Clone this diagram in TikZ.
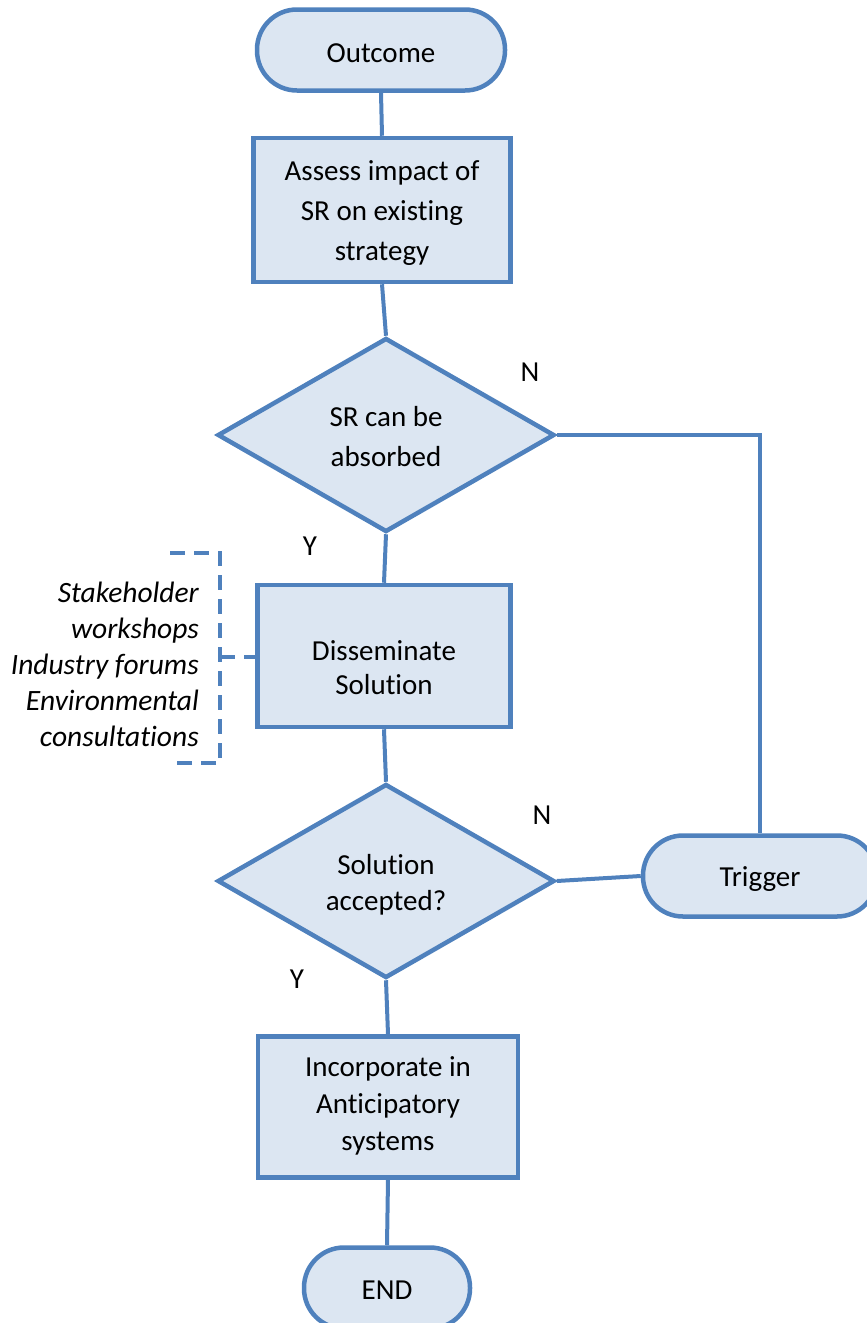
\documentclass[tikz,border=0pt]{standalone}
\usepackage{fontspec}
\setmainfont{Carlito}[Ligatures=NoCommon]
\usetikzlibrary{shapes.geometric}
\definecolor{edge}{HTML}{4F81BD}
\definecolor{panel}{HTML}{DCE6F2}
\tikzset{
  x=1pt, y=-1pt,
  every node/.style={font=\fontsize{29}{41}\selectfont, text=black},
  shapebase/.style={draw=edge, fill=panel, line width=4.5pt, inner sep=0pt},
  terminal/.style={shapebase, rectangle, rounded corners=40pt,
    minimum width=#1, minimum height=81pt},
  stepbox/.style={shapebase, rectangle, minimum width=255pt, minimum height=142pt},
  decision/.style={shapebase, diamond, minimum width=337pt, minimum height=194pt},
  % captions set inside the shapes, with their own line spacing
  caption/.style={inner sep=0pt, align=center, font=\fontsize{29}{#1}\selectfont},
  caption/.default=41,
  link/.style={draw=edge, line width=4pt},
  bracket/.style={draw=edge, line width=3.5pt, dash pattern=on 15pt off 9pt},
  channels/.style={align=right, inner sep=0pt, font=\fontsize{29.5}{36}\selectfont\itshape}
}
\begin{document}
\begin{tikzpicture}
\useasboundingbox (0,0) rectangle (867,1323);

% shapes of the main flow
\node[terminal=248pt] (out) at (381,50) {};
\node[stepbox, minimum width=257pt, minimum height=144pt] (assess) at (382,210) {};
\node[decision] (absorb) at (386,435) {};
\node[stepbox, minimum width=253pt] (diss) at (384,656) {};
\node[decision] (accept) at (386,881) {};
\node[terminal=234pt] (trig) at (760,876) {};
\node[stepbox, minimum width=260pt, minimum height=141pt] (inc) at (388,1107) {};
\node[terminal=166pt] (end) at (387,1288) {};

% their captions
\node[caption] (out-t) at ([yshift=-3pt]out.center) {Outcome};
\node[caption=40] (assess-t) at ([yshift=-3pt]assess.center)
  {Assess impact of\\SR on existing\\strategy};
\node[caption=40] (absorb-t) at ([yshift=-2pt]absorb.center) {SR can be\\absorbed};
\node[caption=34] (diss-t) at ([yshift=-11.5pt]diss.center) {Disseminate\\Solution};
\node[caption=36] (accept-t) at ([yshift=-3.5pt]accept.center) {Solution\\accepted?};
\node[caption] (trig-t) at ([yshift=-3.5pt]trig.center) {Trigger};
\node[caption=37] (inc-t) at ([yshift=1pt]inc.center)
  {Incorporate in\\Anticipatory\\systems};
\node[caption] (end-t) at ([yshift=-2pt]end.center) {END};

% branch labels
\node (n1) at (530,372) {N};
\node (y1) at (310,546) {Y};
\node (n2) at (542,815) {N};
\node (y2) at (297,979) {Y};

% connectors
\draw[link] (out.south) -- (assess.north);
\draw[link] (assess.south) -- (absorb.north);
\draw[link] (absorb.south) -- (diss.north);
\draw[link] (diss.south) -- (accept.north);
\draw[link] (accept.south) -- (inc.north);
\draw[link] (inc.south) -- (end.north);
\draw[link] (absorb.east) -| (trig.north);
\draw[link] (trig.west) -- (accept.east);

% dissemination channels with dashed bracket
\node[channels, anchor=east] (chan) at (199,664)
  {Stakeholder\\workshops\\Industry forums\\Environmental\\consultations};
\coordinate (bt) at (220,553);
\coordinate (bb) at (220,763);
\coordinate (bm) at (220,657);
\draw[bracket] (170,553) -- (bt) -- (bb) -- (170,763);
\draw[bracket] (bm) -- (diss.west |- bm);
\end{tikzpicture}
\end{document}
